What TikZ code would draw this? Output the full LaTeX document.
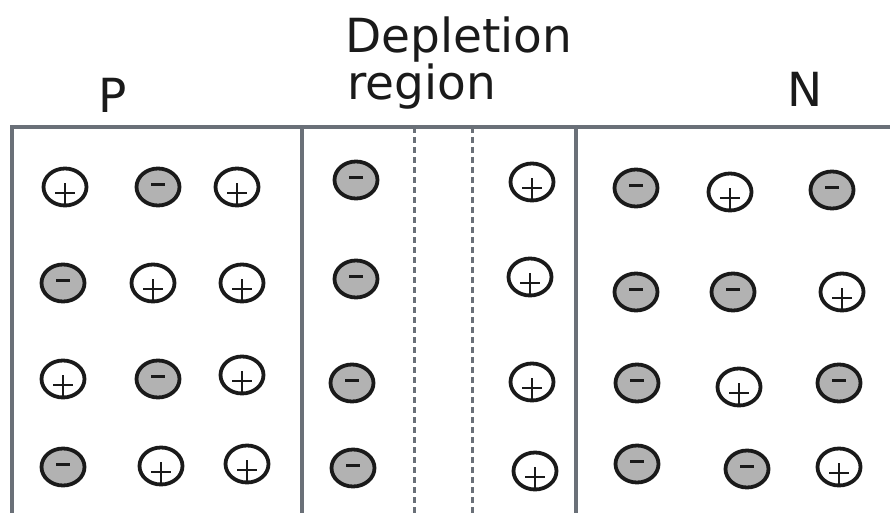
\documentclass[tikz,border=0pt]{standalone}
\usepackage{fontspec}
\setmainfont{DejaVu Sans}
\usetikzlibrary{shapes.geometric}
\definecolor{framecol}{HTML}{6A7078}
\definecolor{negfill}{HTML}{B2B2B2}
\definecolor{inkcol}{HTML}{1A1A1A}
\tikzset{
  framestroke/.style={draw=framecol, line width=4pt},
  dashstroke/.style={draw=framecol, line width=3pt, dash pattern=on 6pt off 4pt},
  charge/.style={ellipse, draw=inkcol, line width=3.8pt, minimum width=43pt, minimum height=37pt, inner sep=0pt},
  negion/.style={charge, fill=negfill, path picture={
      \draw[inkcol, line width=3pt] ([xshift=-7pt,yshift=3pt]path picture bounding box.center) -- ++(14pt,0);}},
  posion/.style={charge, fill=white, path picture={
      \draw[inkcol, line width=2.2pt] ([xshift=-10pt,yshift=-6pt]path picture bounding box.center) -- ++(20pt,0);
      \draw[inkcol, line width=2.2pt] ([yshift=4pt]path picture bounding box.center) -- ++(0,-22pt);}},
  lbl/.style={font=\fontsize{47}{47}\selectfont, text=inkcol, inner sep=0pt}
}
\begin{document}
\begin{tikzpicture}[x=1pt, y=-1pt]
\useasboundingbox (0,0) rectangle (890,513);
% frame
\coordinate (tl) at (12,127);
\coordinate (tr) at (890,127);
\coordinate (bl) at (12,513);
\coordinate (d1t) at (302,127); \coordinate (d1b) at (302,513);
\coordinate (d2t) at (414,127); \coordinate (d2b) at (414,513);
\coordinate (d3t) at (472,127); \coordinate (d3b) at (472,513);
\coordinate (d4t) at (576,127); \coordinate (d4b) at (576,513);
\draw[framestroke] (tr) -- (tl) -- (bl);
\draw[framestroke, line width=3.5pt] (d1t) -- (d1b);
\draw[framestroke, line width=3.5pt] (d4t) -- (d4b);
\draw[dashstroke] (d2t) -- (d2b);
\draw[dashstroke] (d3t) -- (d3b);
% labels
\node[lbl, anchor=base] (lp) at (113,113) {P};
\node[lbl, anchor=base west] (ld1) at (345,53) {Depletion};
\node[lbl, anchor=base west] (ld2) at (347,100) {region};
\node[lbl, anchor=base] (ln) at (805,107) {N};
% P region
\node[posion] (p11) at (65,187) {};
\node[negion] (p12) at (158,187) {};
\node[posion] (p13) at (237,187) {};
\node[negion] (p21) at (63,283) {};
\node[posion] (p22) at (153,283) {};
\node[posion] (p23) at (242,283) {};
\node[posion] (p31) at (63,379) {};
\node[negion] (p32) at (158,379) {};
\node[posion] (p33) at (242,375) {};
\node[negion] (p41) at (63,467) {};
\node[posion] (p42) at (161,466) {};
\node[posion] (p43) at (247,464) {};
% depletion region
\node[negion] (d11) at (356,180) {};
\node[posion] (d12) at (532,182) {};
\node[negion] (d21) at (356,279) {};
\node[posion] (d22) at (530,277) {};
\node[negion] (d31) at (352,383) {};
\node[posion] (d32) at (532,382) {};
\node[negion] (d41) at (353,468) {};
\node[posion] (d42) at (535,471) {};
% N region
\node[negion] (n11) at (636,188) {};
\node[posion] (n12) at (730,192) {};
\node[negion] (n13) at (832,190) {};
\node[negion] (n21) at (636,292) {};
\node[negion] (n22) at (733,292) {};
\node[posion] (n23) at (842,292) {};
\node[negion] (n31) at (637,383) {};
\node[posion] (n32) at (739,387) {};
\node[negion] (n33) at (839,383) {};
\node[negion] (n41) at (637,464) {};
\node[negion] (n42) at (747,469) {};
\node[posion] (n43) at (839,467) {};
\end{tikzpicture}
\end{document}
